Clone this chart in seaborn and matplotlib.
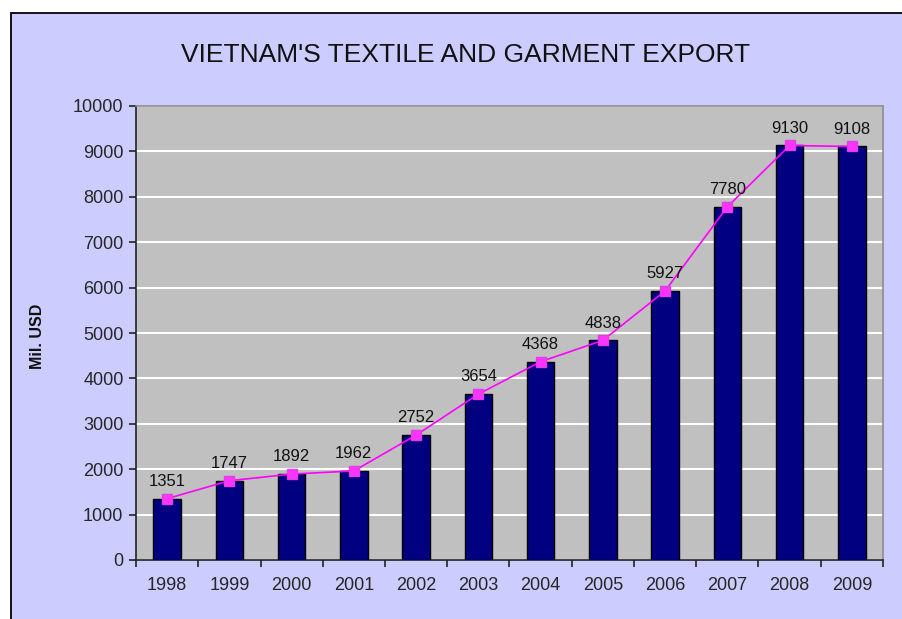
import matplotlib
matplotlib.use("Agg")
import matplotlib.pyplot as plt
import seaborn as sns
import pandas as pd
import numpy as np
from matplotlib.patches import Rectangle

years = ["1998", "1999", "2000", "2001", "2002", "2003", "2004", "2005", "2006", "2007", "2008", "2009"]
values = [1351, 1747, 1892, 1962, 2752, 3654, 4368, 4838, 5927, 7780, 9130, 9108]
yticks = [0, 1000, 2000, 3000, 4000, 5000, 6000, 7000, 8000, 9000, 10000]

df = pd.DataFrame({"year": years, "value": values})

sns.set_style("white")
plt.rcParams["font.family"] = ["Liberation Sans", "DejaVu Sans"]

fig = plt.figure(figsize=(9.03, 6.19), dpi=100)
fig.patch.set_facecolor("white")
# lavender chart area with black frame (cropped at right/bottom)
fx0, fy_top = 11 / 903, 1 - 13 / 619
frame = Rectangle((fx0, -0.05), 1.1, fy_top + 0.05, transform=fig.transFigure,
                  facecolor="#CCCCFF", edgecolor="black", linewidth=1.3, zorder=-10)
fig.patches.append(frame)

ax = fig.add_axes([136 / 903, 1 - 560 / 619, (883 - 136) / 903, (560 - 106) / 619])
ax.set_zorder(1)
ax.set_facecolor("#C0C0C0")

sns.barplot(data=df, x="year", y="value", ax=ax, color="#000080", width=0.44,
            edgecolor="black", linewidth=1, saturation=1, zorder=3)
x = np.arange(len(years))
ax.plot(x, values, color="#FF00FF", linewidth=1.2, marker="s", markersize=7,
        markerfacecolor="#FF33FF", markeredgecolor="#E040E0", zorder=5)
for xi, v in zip(x, values):
    ax.annotate(str(v), (xi, v), textcoords="offset points", xytext=(0, 7),
                ha="center", va="bottom", fontsize=12, color="#111111", zorder=6)

ax.set_xlim(-0.5, len(years) - 0.5)
ax.set_ylim(0, 10000)
ax.set_yticks(yticks)
ax.set_yticklabels([str(t) for t in yticks], fontsize=13)
ax.yaxis.grid(True, color="white", linewidth=1.5, zorder=1)
ax.set_axisbelow(True)

ax.set_xticks(x)
ax.set_xticklabels(years, fontsize=13)
ax.set_xticks(np.arange(-0.5, len(years)), minor=True)
ax.tick_params(axis="x", which="major", length=0, pad=12, bottom=True)
ax.tick_params(axis="x", which="minor", length=5, width=1.2, color="#222222",
               direction="out", bottom=True)
ax.tick_params(axis="y", which="major", length=5, width=1.2, color="#222222",
               direction="out", pad=4, left=True)
ax.set_xlabel("")
ax.set_ylabel("")

for side in ["left", "bottom"]:
    ax.spines[side].set_color("#222222")
    ax.spines[side].set_linewidth(1.2)
for side in ["top", "right"]:
    ax.spines[side].set_visible(True)
    ax.spines[side].set_color("#8C8C8C")
    ax.spines[side].set_linewidth(1.2)

fig.text(466 / 903, 1 - 55 / 619, "VIETNAM'S TEXTILE AND GARMENT EXPORT",
         ha="center", va="center", fontsize=19, color="#111111")
fig.text(38 / 903, 1 - 336 / 619, "Mil. USD", rotation=90, ha="center", va="center",
         fontsize=11.5, fontweight="bold", color="#111111")

fig.savefig("out.png", dpi=100)
